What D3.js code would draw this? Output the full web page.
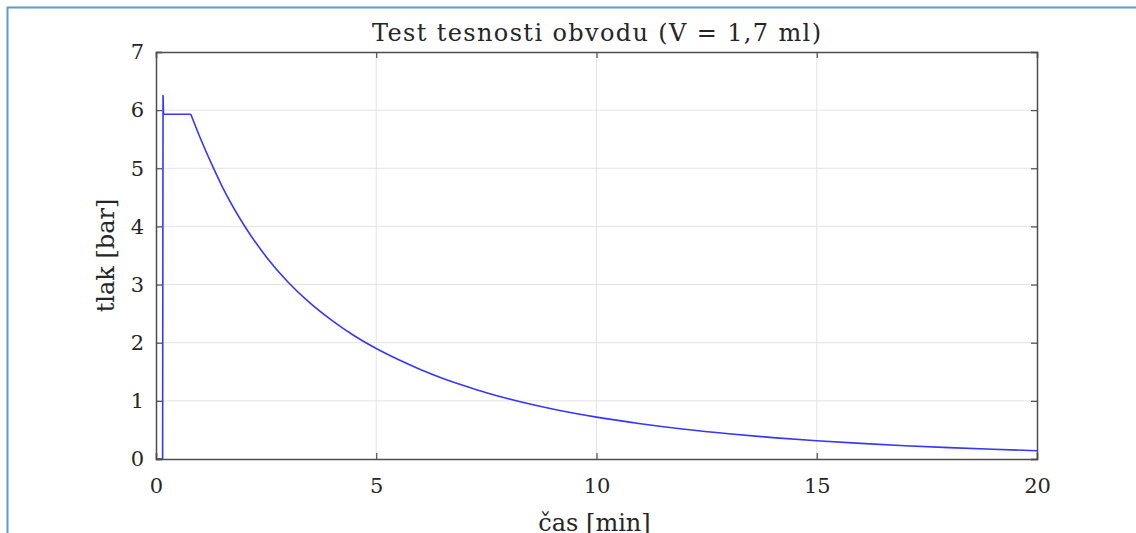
<!DOCTYPE html>
<html>
  <head>
    <script src="https://d3js.org/d3.v7.min.js"></script>
    <meta charset="utf-8">
    <style>
      body { margin: 0; background: #fff; }
      svg text { font-family: "DejaVu Serif", serif; fill: #262626; }
    </style>
  </head>
  <body>
    <div id="chart"></div>
    <script>
// time [min] and pressure [bar]
var casMin = [0, 0.15, 0.16, 0.17, 0.79, 1.0, 1.3, 1.5, 2.0, 2.5, 3.0, 3.5, 4.0, 4.5, 5.0, 5.5, 6.0, 6.5, 7.0, 7.5, 8.0, 9.0, 10, 11, 12, 13, 14, 15, 16, 17, 18, 19, 20];
var tlakBar = [0, 0, 6.25, 5.93, 5.93, 5.53, 5.01, 4.69, 4.02, 3.48, 3.04, 2.68, 2.38, 2.12, 1.90, 1.71, 1.54, 1.39, 1.26, 1.14, 1.035, 0.86, 0.72, 0.607, 0.512, 0.434, 0.368, 0.314, 0.268, 0.229, 0.195, 0.167, 0.142];
var xTicks = [0, 5, 10, 15, 20];
var yTicks = [0, 1, 2, 3, 4, 5, 6, 7];
var decayStart = 4; // index where the valve closes and pressure starts to fall

var width = 1136, height = 533;
var pL = 156, pR = 1037, pT = 52, pB = 459;

var svg = d3.select("#chart").append("svg")
  .attr("width", width)
  .attr("height", height);

// blue frame of the figure
svg.append("path")
  .attr("d", "M7.5," + height + "V7.5H" + width)
  .attr("fill", "none")
  .attr("stroke", "#5b9bd5")
  .attr("stroke-width", 2);

var x = d3.scaleLinear().domain([0, 20]).range([pL, pR]);
var y = d3.scaleLinear().domain([0, 7]).range([pB, pT]);

// grid
svg.append("g").selectAll("line").data(xTicks.slice(1, -1)).enter().append("line")
  .attr("x1", function(d){ return x(d); }).attr("x2", function(d){ return x(d); })
  .attr("y1", pT).attr("y2", pB)
  .attr("stroke", "#e3e3e3").attr("stroke-width", 1);
svg.append("g").selectAll("line").data(yTicks.slice(1, -1)).enter().append("line")
  .attr("y1", function(d){ return y(d); }).attr("y2", function(d){ return y(d); })
  .attr("x1", pL).attr("x2", pR)
  .attr("stroke", "#e3e3e3").attr("stroke-width", 1);

// data line: sharp start-up part + smooth decay
var pts = casMin.map(function(t, i){ return [t, tlakBar[i]]; });
var lineLin = d3.line()
  .x(function(d){ return x(d[0]); })
  .y(function(d){ return y(d[1]); });
var lineSmooth = d3.line()
  .x(function(d){ return x(d[0]); })
  .y(function(d){ return y(d[1]); })
  .curve(d3.curveMonotoneX);

svg.append("path")
  .attr("d", lineLin(pts.slice(0, decayStart + 1)) + lineSmooth(pts.slice(decayStart)))
  .attr("fill", "none")
  .attr("stroke", "#3636ff")
  .attr("stroke-width", 1.6)
  .attr("stroke-linejoin", "round");

// axes, ticks pointing inward like matlab
var tk = 6;
var xAx = d3.axisBottom(x).tickValues(xTicks).tickSize(-tk).tickPadding(tk + 13);
var yAx = d3.axisLeft(y).tickValues(yTicks).tickSize(-tk).tickPadding(12).tickFormat(d3.format("d"));

var gx = svg.append("g").attr("transform", "translate(0," + pB + ")").call(xAx);
var gy = svg.append("g").attr("transform", "translate(" + pL + ",0)").call(yAx);
var gx2 = svg.append("g").attr("transform", "translate(0," + pT + ")")
  .call(d3.axisTop(x).tickValues(xTicks).tickSize(-tk).tickFormat(""));
var gy2 = svg.append("g").attr("transform", "translate(" + pR + ",0)")
  .call(d3.axisRight(y).tickValues(yTicks).tickSize(-tk).tickFormat(""));

[gx, gy, gx2, gy2].forEach(function(g){
  g.select(".domain").attr("stroke", "#4d4d4d").attr("stroke-width", 1.5);
  g.selectAll(".tick line").attr("stroke", "#4d4d4d").attr("stroke-width", 1.2);
  g.selectAll(".tick text").attr("font-size", 21).attr("font-family", "DejaVu Serif").attr("fill", "#262626");
});

svg.append("text")
  .attr("x", (pL + pR) / 2)
  .attr("y", 41)
  .attr("text-anchor", "middle")
  .attr("font-size", 24)
  .attr("textLength", 449)
  .attr("lengthAdjust", "spacing")
  .text("Test tesnosti obvodu (V = 1,7 ml)");

svg.append("text")
  .attr("x", (pL + pR) / 2 - 2)
  .attr("y", 531)
  .attr("text-anchor", "middle")
  .attr("font-size", 24)
  .text("čas [min]");

svg.append("text")
  .attr("transform", "translate(114," + ((pT + pB) / 2) + ") rotate(-90)")
  .attr("text-anchor", "middle")
  .attr("font-size", 24)
  .text("tlak [bar]");
    </script>
  </body>
</html>
